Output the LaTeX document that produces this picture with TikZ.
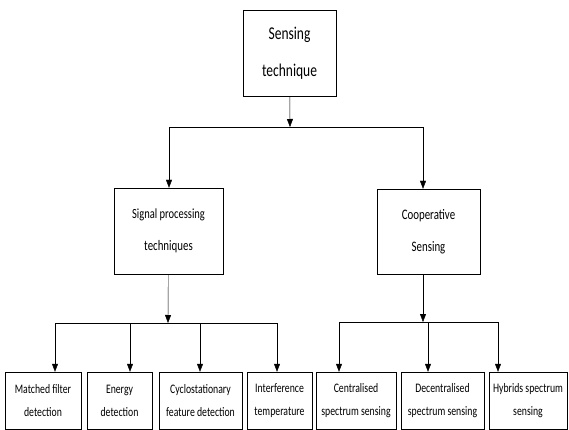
\documentclass[tikz,border=0pt]{standalone}
\usepackage{fontspec}
\setmainfont{Carlito}[FakeStretch=0.75]
\usetikzlibrary{arrows.meta,positioning}

\begin{document}
\begin{tikzpicture}[x=1pt,y=-1pt]
  % One unit is one pixel of the picture, y runs downwards
  \tikzset{techbox/.style={draw,thin,rectangle,inner sep=0pt,align=center},
           bigtxt/.style={font=\fontsize{18}{37}\selectfont},
           midtxt/.style={font=\fontsize{14.5}{32}\selectfont},
           smalltxt/.style={font=\fontsize{13}{23}\selectfont,minimum height=57pt},
           bar/.style={semithick},
           >={Triangle[length=8pt,width=6pt]},
  }
  \useasboundingbox (0,0) rectangle (569,430);
  % The root of the tree
  \node[techbox,bigtxt,minimum width=93pt,minimum height=86pt] (top) at (289.5,53) {Sensing\\technique};
  % The two main families (the left one has its lines a bit closer)
  \node[techbox,midtxt,minimum width=109pt,minimum height=86pt] (sig) at (168.5,231)
    {\fontsize{14}{27}\selectfont Signal processing\\techniques};
  \node[techbox,midtxt,minimum width=103pt,minimum height=85pt] (coop) at (428.5,231.5) {Cooperative\\Sensing};
  % Leaves under the signal processing box
  \node[techbox,smalltxt,minimum width=76pt] (mf) at (43,400.5) {Matched filter\\detection};
  \node[techbox,smalltxt,minimum width=65pt] (en) at (119.5,400.5) {Energy\\detection};
  \node[techbox,smalltxt,minimum width=83pt] (cyc) at (200.5,400.5) {Cyclostationary\\feature detection};
  \node[techbox,smalltxt,minimum width=65pt] (intf) at (279.5,400.5) {Interference\\temperature};
  % Leaves under the cooperative box
  \node[techbox,smalltxt,minimum width=80pt] (cen) at (356,400.5) {Centralised\\spectrum sensing};
  \node[techbox,smalltxt,minimum width=83pt] (dec) at (442.5,400.5) {Decentralised\\spectrum sensing};
  \node[techbox,smalltxt,minimum width=78pt] (hyb) at (528,400.5) {Hybrids spectrum\\sensing};
  % Junction points on the horizontal bars
  \coordinate (j0) at (290,127);
  \coordinate (jl) at (169,127);
  \coordinate (jr) at (423,127);
  \coordinate (s0) at (168,323);
  \coordinate (s1) at (55,323);
  \coordinate (s2) at (130,323);
  \coordinate (s3) at (200,323);
  \coordinate (s4) at (277,323);
  \coordinate (c0) at (423,322);
  \coordinate (c1) at (339,322);
  \coordinate (c2) at (428,322);
  \coordinate (c3) at (498,322);
  % Top level connectors
  \draw[->] (top) -- (j0);
  \draw[bar] (jl) -- (jr);
  \draw[->] (jl) -- (jl |- sig.north);
  \draw[->] (jr) -- (jr |- coop.north);
  % Signal processing branch
  \draw[->] (sig) -- (s0);
  \draw[bar] (s1) -- (s4);
  \foreach \s/\n in {s1/mf,s2/en,s3/cyc,s4/intf}
    \draw[->] (\s) -- (\s |- \n.north);
  % Cooperative branch
  \draw[->] (c0 |- coop.south) -- (c0);
  \draw[bar] (c1) -- (c3);
  \foreach \s/\n in {c1/cen,c2/dec,c3/hyb}
    \draw[->] (\s) -- (\s |- \n.north);
\end{tikzpicture}
\end{document}
